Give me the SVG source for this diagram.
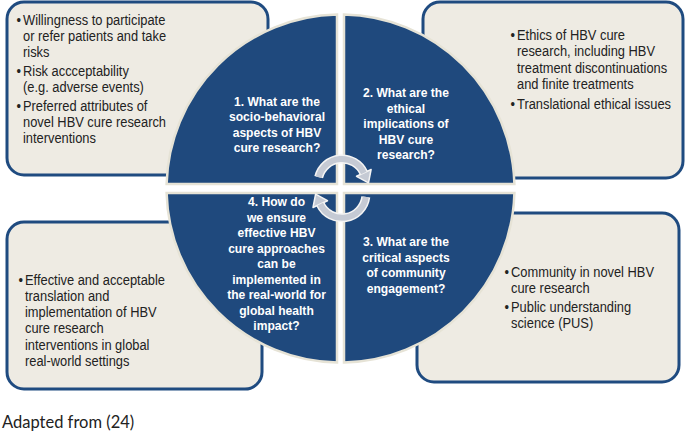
<svg xmlns="http://www.w3.org/2000/svg" width="685" height="432" viewBox="0 0 685 432">
<style>
.box{fill:#eeebe3;stroke:#1f4b80;stroke-width:3}
.q{fill:#1f497d;stroke:#e6e3d6;stroke-width:2.5}
.bt{font-family:"Liberation Sans",Arial,sans-serif;font-size:14px;fill:#222}
.ct{font-family:"Liberation Sans",Arial,sans-serif;font-size:13px;font-weight:bold;fill:#fff;text-anchor:middle}
.arcw{fill:none;stroke:#f4f4f4;stroke-width:9}
.arcg{fill:none;stroke:#c5cad4;stroke-width:6}
.headw{fill:#c5cad4;stroke:#f4f4f4;stroke-width:1.5;stroke-linejoin:round}
.cap{font-family:Lato,"Open Sans",sans-serif;font-size:16.5px;fill:#222}
</style>
<rect width="685" height="432" fill="#fff"/>
<g id="box1">
<rect class="box" x="7" y="2" width="261" height="173" rx="17"/>
<g transform="matrix(0.92,0,0,1,23,0)" class="bt">
<text x="-7" y="25">•</text><text x="0" y="25">Willingness to participate</text>
<text x="0" y="41">or refer patients and take</text>
<text x="0" y="57">risks</text>
<text x="-7" y="76">•</text><text x="0" y="76">Risk accceptability</text>
<text x="0" y="92">(e.g. adverse events)</text>
<text x="-7" y="111">•</text><text x="0" y="111">Preferred attributes of</text>
<text x="0" y="127">novel HBV cure research</text>
<text x="0" y="143">interventions</text>
</g>
</g>
<g id="box2">
<rect class="box" x="423" y="2" width="260" height="176" rx="17"/>
<g transform="matrix(0.92,0,0,1,517,0)" class="bt">
<text x="-7" y="40">•</text><text x="0" y="40">Ethics of HBV cure</text>
<text x="0" y="56.5">research, including HBV</text>
<text x="0" y="73">treatment discontinuations</text>
<text x="0" y="89.5">and finite treatments</text>
<text x="-7" y="109">•</text><text x="0" y="109">Translational ethical issues</text>
</g>
</g>
<g id="box4">
<rect class="box" x="7" y="222" width="255" height="167" rx="17"/>
<g transform="matrix(0.92,0,0,1,25,0)" class="bt">
<text x="-7" y="285">•</text><text x="0" y="285">Effective and acceptable</text>
<text x="0" y="301">translation and</text>
<text x="0" y="317.5">implementation of HBV</text>
<text x="0" y="333.5">cure research</text>
<text x="0" y="350">interventions in global</text>
<text x="0" y="366">real-world settings</text>
</g>
</g>
<g id="box3">
<rect class="box" x="417" y="213" width="262" height="169" rx="17"/>
<g transform="matrix(0.92,0,0,1,511,0)" class="bt">
<text x="-7" y="277">•</text><text x="0" y="277">Community in novel HBV</text>
<text x="0" y="293">cure research</text>
<text x="-7" y="312">•</text><text x="0" y="312">Public understanding</text>
<text x="0" y="328">science (PUS)</text>
</g>
</g>
<g id="q1">
<path class="q" d="M337,184 V14.5 A174,174 0 0 0 166.6,184 Z"/>
<g transform="matrix(0.93,0,0,1,277,0)" class="ct">
<text x="0" y="106">1. What are the</text>
<text x="0" y="121.5">socio-behavioral</text>
<text x="0" y="137">aspects of HBV</text>
<text x="0" y="152.5">cure research?</text>
</g>
</g>
<g id="q2">
<path class="q" d="M344,184 V14.5 A174,174 0 0 1 514.4,184 Z"/>
<g transform="matrix(0.93,0,0,1,406,0)" class="ct">
<text x="0" y="97.5">2. What are the</text>
<text x="0" y="113">ethical</text>
<text x="0" y="128.5">implications of</text>
<text x="0" y="144">HBV cure</text>
<text x="0" y="159.5">research?</text>
</g>
</g>
<g id="q3">
<path class="q" d="M344,193 H514.4 A174,174 0 0 1 344,362.5 Z"/>
<g transform="matrix(0.93,0,0,1,406,0)" class="ct">
<text x="0" y="246.5">3. What are the</text>
<text x="0" y="262">critical aspects</text>
<text x="0" y="277.5">of community</text>
<text x="0" y="293">engagement?</text>
</g>
</g>
<g id="q4">
<path class="q" d="M337,193 V362.5 A174,174 0 0 1 166.6,193 Z"/>
<g transform="matrix(0.93,0,0,1,276.5,0)" class="ct">
<text x="0" y="206.5">4. How do</text>
<text x="0" y="222">we ensure</text>
<text x="0" y="237.5">effective HBV</text>
<text x="0" y="253">cure approaches</text>
<text x="0" y="268.5">can be</text>
<text x="0" y="284">implemented in</text>
<text x="0" y="299.5">the real-world for</text>
<text x="0" y="315">global health</text>
<text x="0" y="330.5">impact?</text>
</g>
</g>
<g id="connectors">
<path class="arcw" d="M318.7,177.2 A24,24 0 0 1 363.8,172.9"/>
<path class="arcw" d="M365.8,196.9 A24,24 0 0 1 320.3,204.1"/>
<polygon class="headw" points="371.1,169.5 356.5,176.3 368.5,182.9"/>
<polygon class="headw" points="313.0,207.5 327.5,200.7 315.6,194.1"/>
<path class="arcg" d="M318.7,177.2 A24,24 0 0 1 363.8,172.9"/>
<path class="arcg" d="M365.8,196.9 A24,24 0 0 1 320.3,204.1"/>
</g>
<text class="cap" x="2" y="428">Adapted from (24)</text>
</svg>
